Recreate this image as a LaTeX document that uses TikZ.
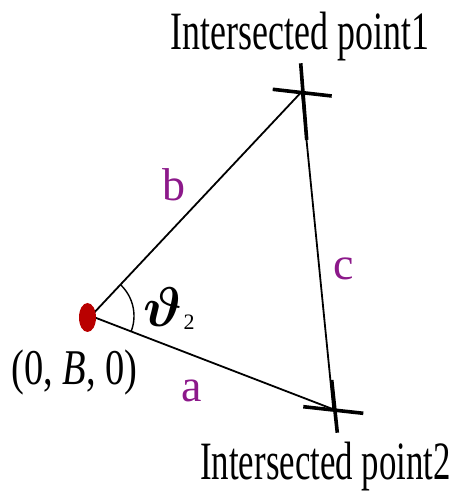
\documentclass[tikz,border=0pt]{standalone}
\usepackage{fontspec}
\usepackage{bm}
\setmainfont{Liberation Serif}
\definecolor{lblpurple}{RGB}{140,25,138}
\definecolor{dotred}{RGB}{185,0,0}
\begin{document}
\begin{tikzpicture}[x=1pt,y=1pt,
  edge/.style={line width=1.8pt,black},
  crossbar/.style={line width=3.6pt,black},
  bigtext/.style={font=\fontsize{54}{60}\selectfont,xscale=0.665,anchor=base,inner sep=0pt},
  sidelbl/.style={font=\fontsize{46}{50}\selectfont,text=lblpurple,anchor=base,inner sep=0pt}]
\useasboundingbox (0,0) rectangle (452,500);
% points
\coordinate (v) at (91,184);
\coordinate (p1) at (301.7,408.3);
\coordinate (p2) at (333.3,90.7);
% triangle
\draw[edge] (v) -- (p1);
\draw[edge] (v) -- (p2);
\draw[edge] (p1) -- (p2);
% crosses
\coordinate (p1h1) at (272.7,410.7);
\coordinate (p1h2) at (331.7,404);
\coordinate (p1v1) at (300.7,436.7);
\coordinate (p1v2) at (306.7,360);
\draw[crossbar] (p1h1) -- (p1h2);
\draw[crossbar] (p1v1) -- (p1v2);
\coordinate (p2h1) at (303.3,93.3);
\coordinate (p2h2) at (363.3,86.7);
\coordinate (p2v1) at (331.7,120);
\coordinate (p2v2) at (337.3,67.3);
\draw[crossbar] (p2h1) -- (p2h2);
\draw[crossbar] (p2v1) -- (p2v2);
% angle arc
\draw[line width=1.4pt] ([shift={(-21.2:43)}]v) arc[start angle=-21.2,end angle=46.5,radius=43];
% dot
\fill[dotred] (87.5,182.5) ellipse[x radius=8.5,y radius=14.5];
% labels
\node[bigtext] (t1) at (300,450) {Intersected point1};
\node[bigtext,xscale=0.97] (t2) at (325.5,20) {Intersected point2};
\node[font=\fontsize{50}{56}\selectfont,xscale=0.77,anchor=base,inner sep=0pt] (org) at (74.5,115) {(0, \textit{B}, 0)};
\node[sidelbl] (lb) at (174,299) {b};
\node[sidelbl] (lc) at (344,220) {c};
\node[sidelbl] (la) at (192,98) {a};
\node[scale=5.6,anchor=base,inner sep=0pt] (th) at (163,173) {$\bm{\vartheta}$};
\node[font=\fontsize{22}{24}\selectfont,anchor=base,inner sep=0pt] (sub) at (189,170) {2};
\end{tikzpicture}
\end{document}
